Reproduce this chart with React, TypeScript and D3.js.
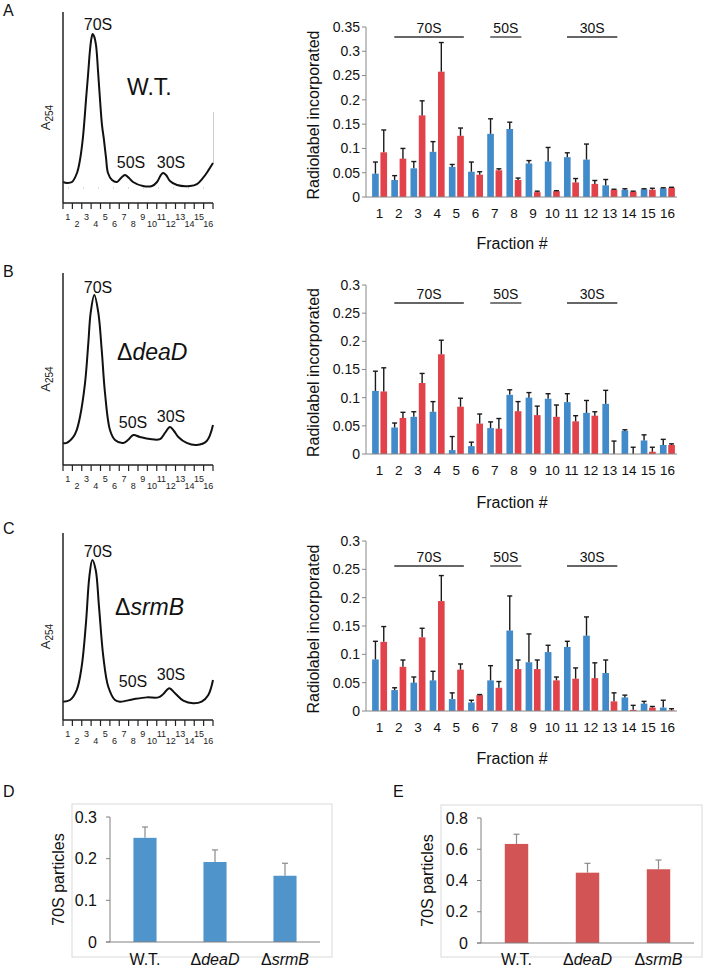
import React from "react";
import * as d3 from "d3";

const FONT = "'Liberation Sans', Arial, Helvetica, sans-serif";
const BLUE = "#428bca";
const RED = "#e2434b";
const BLUE_SUM = "#5094cc";
const RED_SUM = "#d25454";

type Pt = [number, number];

// fraction numbers (x categories)
const fractions = [1, 2, 3, 4, 5, 6, 7, 8, 9, 10, 11, 12, 13, 14, 15, 16];

// ribosome regions marked above the bar charts
const regions = [
  { label: "70S", from: 2, to: 5 },
  { label: "50S", from: 7, to: 8 },
  { label: "30S", from: 11, to: 13 },
];

// A254 profiles: [fraction position, relative absorbance]
const wtTrace: Pt[] = [
  [0, 0.11], [0.43, 0.105], [0.96, 0.11], [1.49, 0.157], [1.81, 0.225], [2.1, 0.33],
  [2.29, 0.435], [2.45, 0.539], [2.67, 0.67], [2.88, 0.801], [3.04, 0.864], [3.17, 0.885],
  [3.31, 0.874], [3.52, 0.827], [3.73, 0.696], [3.95, 0.539], [4.16, 0.408], [4.37, 0.33],
  [4.59, 0.236], [4.8, 0.157], [5.23, 0.12], [5.76, 0.11], [6.19, 0.131], [6.61, 0.147],
  [7.04, 0.131], [7.47, 0.11], [8.53, 0.089], [9.49, 0.089], [10.03, 0.11], [10.45, 0.147],
  [10.67, 0.157], [10.99, 0.147], [11.41, 0.115], [12.16, 0.094], [13.55, 0.089],
  [14.29, 0.099], [14.93, 0.131], [15.47, 0.168], [16, 0.209],
];
const deaDTrace: Pt[] = [
  [0, 0.115], [0.39, 0.115], [1.1, 0.146], [1.46, 0.182], [1.81, 0.25], [2.35, 0.427],
  [2.7, 0.635], [2.95, 0.792], [3.34, 0.885], [3.77, 0.792], [4.13, 0.599], [4.48, 0.375],
  [5.01, 0.182], [5.55, 0.13], [6.43, 0.115], [6.93, 0.13], [7.5, 0.156], [8.21, 0.146],
  [9.28, 0.135], [10.35, 0.135], [10.88, 0.167], [11.41, 0.198], [11.84, 0.177],
  [12.3, 0.146], [13.19, 0.115], [14.26, 0.104], [15.33, 0.125], [16, 0.208],
];
const srmBTrace: Pt[] = [
  [0, 0.098], [0.75, 0.107], [1.46, 0.16], [1.99, 0.285], [2.45, 0.519], [2.81, 0.766],
  [3.13, 0.856], [3.49, 0.802], [3.84, 0.606], [4.3, 0.339], [4.83, 0.178], [5.55, 0.107],
  [6.08, 0.098], [7.5, 0.111], [8.93, 0.121], [10.17, 0.121], [10.7, 0.139], [11.34, 0.17],
  [11.95, 0.143], [12.83, 0.103], [13.9, 0.089], [14.79, 0.098], [15.5, 0.134], [16, 0.214],
];

// radiolabel incorporated per fraction (blue / red series) with SD
const wtBlue = [0.048, 0.035, 0.059, 0.093, 0.062, 0.052, 0.13, 0.14, 0.069, 0.073, 0.082, 0.077, 0.024, 0.015, 0.016, 0.018];
const wtBlueSd = [0.024, 0.009, 0.014, 0.021, 0.005, 0.02, 0.031, 0.014, 0.006, 0.029, 0.009, 0.032, 0.012, 0.002, 0.001, 0.001];
const wtRed = [0.092, 0.079, 0.168, 0.258, 0.126, 0.046, 0.055, 0.035, 0.01, 0.012, 0.03, 0.027, 0.015, 0.011, 0.015, 0.019];
const wtRedSd = [0.046, 0.021, 0.03, 0.06, 0.016, 0.006, 0.003, 0.004, 0.002, 0.001, 0.008, 0.007, 0.001, 0.001, 0.003, 0.001];

const deaDBlue = [0.112, 0.047, 0.066, 0.075, 0.007, 0.014, 0.046, 0.105, 0.1, 0.098, 0.092, 0.073, 0.089, 0.041, 0.024, 0.016];
const deaDBlueSd = [0.035, 0.008, 0.009, 0.018, 0.024, 0.007, 0.011, 0.009, 0.009, 0.009, 0.015, 0.022, 0.024, 0.002, 0.01, 0.01];
const deaDRed = [0.111, 0.064, 0.126, 0.177, 0.084, 0.054, 0.045, 0.076, 0.069, 0.066, 0.058, 0.068, 0, 0, 0.004, 0.016];
const deaDRedSd = [0.042, 0.01, 0.017, 0.025, 0.015, 0.017, 0.018, 0.017, 0.016, 0.021, 0.01, 0.007, 0.023, 0.012, 0.008, 0.002];

const srmBBlue = [0.091, 0.037, 0.05, 0.054, 0.021, 0.015, 0.054, 0.142, 0.086, 0.104, 0.113, 0.133, 0.067, 0.024, 0.013, 0.006];
const srmBBlueSd = [0.032, 0.004, 0.01, 0.016, 0.011, 0.004, 0.026, 0.061, 0.05, 0.012, 0.01, 0.033, 0.023, 0.004, 0.004, 0.013];
const srmBRed = [0.122, 0.078, 0.13, 0.194, 0.073, 0.028, 0.041, 0.074, 0.074, 0.054, 0.057, 0.058, 0.017, 0.002, 0.006, 0.001];
const srmBRedSd = [0.027, 0.012, 0.016, 0.045, 0.01, 0.001, 0.011, 0.016, 0.016, 0.006, 0.019, 0.027, 0.015, 0.008, 0.002, 0.003];

// 70S particles summary
const strains = ["W.T.", "ΔdeaD", "ΔsrmB"];
const particlesBlue = [0.25, 0.192, 0.159];
const particlesBlueSd = [0.026, 0.029, 0.03];
const particlesRed = [0.634, 0.45, 0.472];
const particlesRedSd = [0.062, 0.06, 0.059];

const ticksA = [0, 0.05, 0.1, 0.15, 0.2, 0.25, 0.3, 0.35];
const ticksBC = [0, 0.05, 0.1, 0.15, 0.2, 0.25, 0.3];
const ticksD = [0, 0.1, 0.2, 0.3];
const ticksE = [0, 0.2, 0.4, 0.6, 0.8];

const StrainName = ({ name }: { name: string }) =>
  name.startsWith("Δ") ? (
    <>
      Δ<tspan fontStyle="italic">{name.slice(1)}</tspan>
    </>
  ) : (
    <>{name}</>
  );

type PeakLabel = { text: string; x: number; y: number };

const Profile = ({
  letter,
  letterY,
  top,
  bottom,
  trace,
  strain,
  strainX,
  strainY,
  peaks,
  extra,
}: {
  letter: string;
  letterY: number;
  top: number;
  bottom: number;
  trace: Pt[];
  strain: string;
  strainX: number;
  strainY: number;
  peaks: PeakLabel[];
  extra?: boolean;
}) => {
  const x = d3.scaleLinear().domain([0, 16]).range([63, 213]);
  const y = d3.scaleLinear().domain([0, 1]).range([bottom, top]);
  const line = d3
    .line<Pt>()
    .x((d) => x(d[0]))
    .y((d) => y(d[1]))
    .curve(d3.curveCatmullRom.alpha(0.5));

  return (
    <g fontFamily={FONT}>
      <text x={3} y={letterY} fontSize={16} fill="#111">
        {letter}
      </text>
      {extra && (
        <>
          <line x1={68} x2={210} y1={bottom - 15} y2={bottom - 15} stroke="#bbb" strokeDasharray="1,14" />
          <line x1={213.5} x2={213.5} y1={bottom - 91} y2={bottom - 40} stroke="#ccc" />
        </>
      )}
      <path d={line(trace) ?? ""} fill="none" stroke="#111" strokeWidth={2} />
      <line x1={63} x2={63} y1={top} y2={bottom} stroke="#222" strokeWidth={1.5} />
      <line x1={63} x2={213} y1={bottom} y2={bottom} stroke="#222" strokeWidth={1.5} />
      {d3.range(17).map((k) => (
        <line key={k} x1={x(k)} x2={x(k)} y1={bottom} y2={bottom + 6} stroke="#222" strokeWidth={1.2} />
      ))}
      {fractions.map((f) => (
        <text
          key={f}
          x={x(f - 0.5)}
          y={bottom + (f % 2 === 1 ? 17 : 24)}
          fontSize={9}
          textAnchor="middle"
          fill="#222"
        >
          {f}
        </text>
      ))}
      <text
        transform={`translate(50,${(top + bottom) / 2 + 10}) rotate(-90)`}
        textAnchor="middle"
        fontSize={13}
        fill="#222"
      >
        A<tspan fontSize={10} dy={3}>254</tspan>
      </text>
      {peaks.map((p) => (
        <text key={p.text} x={p.x} y={p.y} fontSize={16} textAnchor="middle" fill="#111">
          {p.text}
        </text>
      ))}
      <text x={strainX} y={strainY} fontSize={23} fill="#111">
        <StrainName name={strain} />
      </text>
    </g>
  );
};

const FractionBars = ({
  y0,
  yTop,
  max,
  ticks,
  blue,
  blueSd,
  red,
  redSd,
  bracketY,
  titleY,
}: {
  y0: number;
  yTop: number;
  max: number;
  ticks: number[];
  blue: number[];
  blueSd: number[];
  red: number[];
  redSd: number[];
  bracketY: number;
  titleY: number;
}) => {
  const x = d3.scaleBand<number>().domain(fractions).range([370, 677]).paddingInner(0.22).paddingOuter(0.11);
  const inner = d3.scaleBand<string>().domain(["b", "r"]).range([0, x.bandwidth()]).paddingInner(0.2);
  const y = d3.scaleLinear().domain([0, max]).range([y0, yTop]);
  const bw = inner.bandwidth();
  const series = [
    { key: "b", vals: blue, sds: blueSd, color: BLUE },
    { key: "r", vals: red, sds: redSd, color: RED },
  ];

  return (
    <g fontFamily={FONT}>
      {series.map((s) =>
        fractions.map((f, i) => (
          <rect
            key={s.key + f}
            x={(x(f) ?? 0) + (inner(s.key) ?? 0)}
            y={y(s.vals[i])}
            width={bw}
            height={y0 - y(s.vals[i])}
            fill={s.color}
          />
        ))
      )}
      {series.map((s) =>
        fractions.map((f, i) => {
          if (!s.sds[i]) return null;
          const cx = (x(f) ?? 0) + (inner(s.key) ?? 0) + bw / 2;
          const yt = y(s.vals[i] + s.sds[i]);
          return (
            <g key={"e" + s.key + f} stroke="#1a1a1a" strokeWidth={1.4}>
              <line x1={cx} x2={cx} y1={y(s.vals[i])} y2={yt} />
              <line x1={cx - 2.5} x2={cx + 2.5} y1={yt} y2={yt} />
            </g>
          );
        })
      )}
      <line x1={366} x2={366} y1={yTop} y2={y0} stroke="#888" />
      <line x1={366} x2={677} y1={y0} y2={y0} stroke="#888" />
      {ticks.map((t) => (
        <g key={t}>
          <line x1={362} x2={366} y1={y(t)} y2={y(t)} stroke="#888" />
          <text x={360} y={y(t)} dy="0.35em" textAnchor="end" fontSize={14} fill="#111">
            {String(t)}
          </text>
        </g>
      ))}
      {fractions.map((f) => (
        <text key={f} x={(x(f) ?? 0) + x.bandwidth() / 2} y={y0 + 21} textAnchor="middle" fontSize={13.5} fill="#111">
          {f}
        </text>
      ))}
      {regions.map((r) => {
        const x1 = (x(r.from) ?? 0) + x.bandwidth() * 0.2;
        const x2 = (x(r.to) ?? 0) + x.bandwidth();
        return (
          <g key={r.label}>
            <line x1={x1} x2={x2} y1={bracketY} y2={bracketY} stroke="#333" strokeWidth={1.3} />
            <text x={(x1 + x2) / 2} y={bracketY - 4} textAnchor="middle" fontSize={14} fill="#111">
              {r.label}
            </text>
          </g>
        );
      })}
      <text
        transform={`translate(319,${(y0 + yTop) / 2 + 3}) rotate(-90)`}
        textAnchor="middle"
        fontSize={16}
        fill="#111"
      >
        Radiolabel incorporated
      </text>
      <text x={512} y={titleY} textAnchor="middle" fontSize={16} fill="#111">
        Fraction #
      </text>
    </g>
  );
};

const SummaryBars = ({
  letter,
  letterX,
  frame,
  axisX,
  right,
  y0,
  yTop,
  max,
  ticks,
  values,
  sds,
  color,
}: {
  letter: string;
  letterX: number;
  frame: [number, number, number, number];
  axisX: number;
  right: number;
  y0: number;
  yTop: number;
  max: number;
  ticks: number[];
  values: number[];
  sds: number[];
  color: string;
}) => {
  const x = d3.scaleBand<string>().domain(strains).range([axisX, right]).paddingInner(0.67).paddingOuter(0.335);
  const y = d3.scaleLinear().domain([0, max]).range([y0, yTop]);
  return (
    <g fontFamily={FONT}>
      <text x={letterX} y={797} fontSize={16} fill="#111">
        {letter}
      </text>
      <rect
        x={frame[0]}
        y={frame[1]}
        width={frame[2] - frame[0]}
        height={frame[3] - frame[1]}
        fill="none"
        stroke="#d9d9d9"
      />
      {strains.map((s, i) => {
        const bx = x(s) ?? 0;
        const cx = bx + x.bandwidth() / 2;
        const yt = y(values[i] + sds[i]);
        return (
          <g key={s}>
            <rect x={bx} y={y(values[i])} width={x.bandwidth()} height={y0 - y(values[i])} fill={color} />
            <line x1={cx} x2={cx} y1={y(values[i])} y2={yt} stroke="#8a8a8a" strokeWidth={1.2} />
            <line x1={cx - 3} x2={cx + 3} y1={yt} y2={yt} stroke="#8a8a8a" strokeWidth={1.2} />
            <text x={cx} y={965} textAnchor="middle" fontSize={16} fill="#111">
              <StrainName name={s} />
            </text>
          </g>
        );
      })}
      <line x1={axisX} x2={axisX} y1={yTop} y2={y0} stroke="#808080" />
      <line x1={axisX - 4} x2={right} y1={y0} y2={y0} stroke="#808080" />
      {ticks.map((t) => (
        <g key={t}>
          <line x1={axisX - 4} x2={axisX} y1={y(t)} y2={y(t)} stroke="#808080" />
          <text x={axisX - 13} y={y(t)} dy="0.35em" textAnchor="end" fontSize={16} fill="#111">
            {String(t)}
          </text>
        </g>
      ))}
      <text
        transform={`translate(${frame[0] - 8},${(y0 + yTop) / 2}) rotate(-90)`}
        textAnchor="middle"
        fontSize={16}
        fill="#111"
      >
        70S particles
      </text>
    </g>
  );
};

export default function App() {
  return (
    <svg
      width={703}
      height={969}
      viewBox="0 0 703 969"
      style={{ position: "absolute", top: 0, left: 0, background: "#fff" }}
    >
      <Profile
        letter="A"
        letterY={16}
        top={12}
        bottom={203}
        trace={wtTrace}
        strain="W.T."
        strainX={127}
        strainY={95}
        peaks={[
          { text: "70S", x: 98, y: 30 },
          { text: "50S", x: 131, y: 168 },
          { text: "30S", x: 171, y: 168 },
        ]}
        extra
      />
      <Profile
        letter="B"
        letterY={277}
        top={273}
        bottom={465}
        trace={deaDTrace}
        strain="ΔdeaD"
        strainX={117}
        strainY={360}
        peaks={[
          { text: "70S", x: 98, y: 293 },
          { text: "50S", x: 133, y: 428 },
          { text: "30S", x: 171, y: 422 },
        ]}
      />
      <Profile
        letter="C"
        letterY={534}
        top={533}
        bottom={720}
        trace={srmBTrace}
        strain="ΔsrmB"
        strainX={115}
        strainY={615}
        peaks={[
          { text: "70S", x: 98, y: 557 },
          { text: "50S", x: 133, y: 687 },
          { text: "30S", x: 171, y: 680 },
        ]}
      />
      <FractionBars
        y0={197}
        yTop={27}
        max={0.35}
        ticks={ticksA}
        blue={wtBlue}
        blueSd={wtBlueSd}
        red={wtRed}
        redSd={wtRedSd}
        bracketY={37}
        titleY={249}
      />
      <FractionBars
        y0={454}
        yTop={285}
        max={0.3}
        ticks={ticksBC}
        blue={deaDBlue}
        blueSd={deaDBlueSd}
        red={deaDRed}
        redSd={deaDRedSd}
        bracketY={303}
        titleY={508}
      />
      <FractionBars
        y0={711}
        yTop={541}
        max={0.3}
        ticks={ticksBC}
        blue={srmBBlue}
        blueSd={srmBBlueSd}
        red={srmBRed}
        redSd={srmBRedSd}
        bracketY={566}
        titleY={764}
      />
      <SummaryBars
        letter="D"
        letterX={3}
        frame={[72, 804, 332, 957]}
        axisX={110}
        right={320}
        y0={942}
        yTop={817}
        max={0.3}
        ticks={ticksD}
        values={particlesBlue}
        sds={particlesBlueSd}
        color={BLUE_SUM}
      />
      <SummaryBars
        letter="E"
        letterX={393}
        frame={[441, 805, 702, 957]}
        axisX={481}
        right={694}
        y0={943}
        yTop={818}
        max={0.8}
        ticks={ticksE}
        values={particlesRed}
        sds={particlesRedSd}
        color={RED_SUM}
      />
    </svg>
  );
}
